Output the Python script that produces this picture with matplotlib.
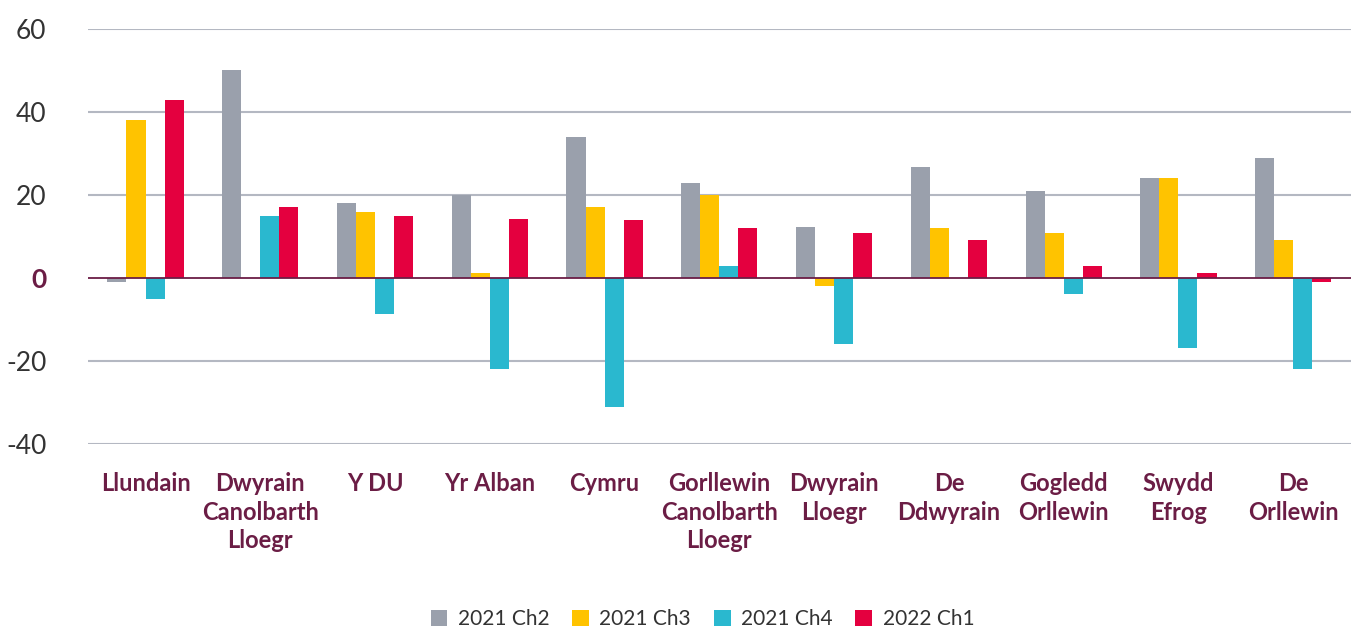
import numpy as np
import matplotlib.pyplot as plt

regions = ['Llundain', 'Dwyrain\nCanolbarth\nLloegr', 'Y DU', 'Yr Alban', 'Cymru',
           'Gorllewin\nCanolbarth\nLloegr', 'Dwyrain\nLloegr', 'De\nDdwyrain',
           'Gogledd\nOrllewin', 'Swydd\nEfrog', 'De\nOrllewin']

q2_2021 = [-1, 50, 18, 20, 34, 23, 12.3, 26.7, 21, 24, 29]
q3_2021 = [38, 0, 16, 1.2, 17, 20, -2, 12, 10.8, 24, 9.2]
q4_2021 = [-5, 15, -8.6, -22, -31, 3, -15.8, 0, -3.8, -16.8, -22]
q1_2022 = [43, 17, 15, 14.2, 14, 12, 10.8, 9.2, 3, 1.2, -1]

series = [q2_2021, q3_2021, q4_2021, q1_2022]
labels = ['2021 Ch2', '2021 Ch3', '2021 Ch4', '2022 Ch1']
colours = ['#9AA0AC', '#FFC300', '#2AB8CF', '#E4003F']

maroon = '#6B1D45'
plt.rcParams['font.family'] = ['Lato', 'DejaVu Sans']

fig = plt.figure(figsize=(13.56, 6.29), dpi=100)
ax = fig.add_axes([0.065, 0.294, 0.931, 0.66])

x = np.arange(len(regions))
w = 0.166
for i, (vals, lab, c) in enumerate(zip(series, labels, colours)):
    ax.bar(x + (i - 1.5) * w, vals, w, color=c, label=lab, zorder=2)

ax.set_xlim(-0.5, len(regions) - 0.5)
ax.set_ylim(-40, 60)
ax.set_yticks([-40, -20, 0, 20, 40, 60])
ax.set_yticklabels(['-40', '-20', '0', '20', '40', '60'])
for t in ax.get_yticklabels():
    t.set_color('#333333')
    t.set_fontsize(19)
zero = ax.get_yticklabels()[2]
zero.set_color(maroon)
zero.set_fontweight('bold')

for yv in [-40, -20, 20, 40, 60]:
    ax.axhline(yv, color='#B4B8C2', lw=1.5, zorder=1)
ax.axhline(0, color=maroon, lw=1.3, zorder=3)

ax.set_xticks(x)
ax.set_xticklabels(regions, fontsize=17, fontweight='bold', color=maroon,
                   linespacing=1.3, va='top')
ax.tick_params(axis='x', length=0, pad=20)
ax.tick_params(axis='y', length=0, pad=30)
for s in ax.spines.values():
    s.set_visible(False)

fig.legend(loc='lower center', bbox_to_anchor=(0.518, -0.03), ncol=4, frameon=False,
           fontsize=15, handlelength=0.8, handleheight=0.8, handletextpad=0.5,
           columnspacing=1.1, labelcolor='#333333')

fig.savefig('out.png', dpi=100)
